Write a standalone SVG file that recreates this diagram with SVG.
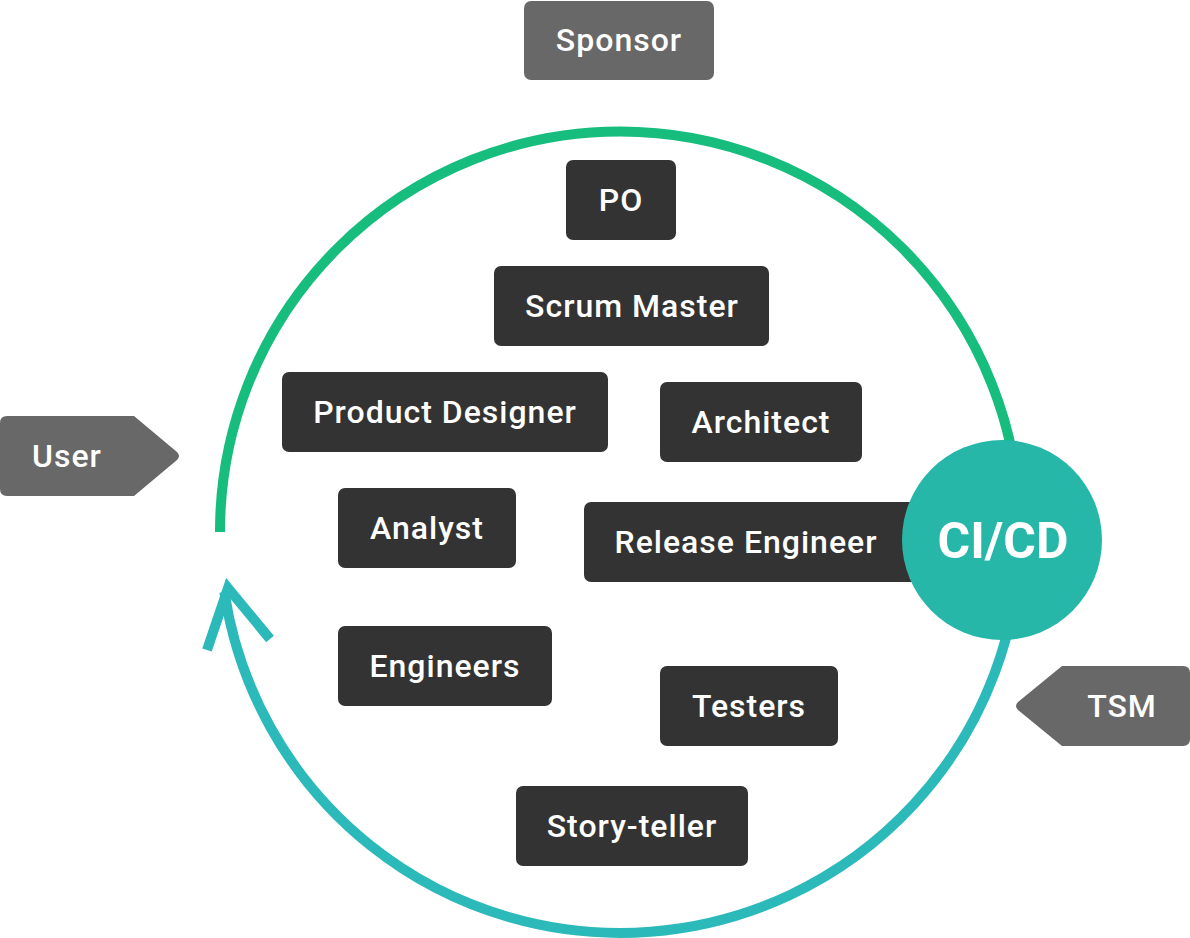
<svg xmlns="http://www.w3.org/2000/svg" width="1190" height="938" viewBox="0 0 1190 938">
<style>
.box{fill:#333333}
.ext{fill:#686868}
.t{font-family:Roboto,"Noto Sans",sans-serif;font-weight:500;font-size:32px;fill:#ffffff;text-anchor:middle;letter-spacing:1px}
.big{font-family:Roboto,"Noto Sans",sans-serif;font-weight:700;font-size:50px;fill:#ffffff;text-anchor:middle}
</style>
<rect width="1190" height="938" fill="#ffffff"/>
<g id="connectors" fill="none" stroke-width="10">
<path d="M220,532 A400,400 0 0 1 1020,531" stroke="#16BD7D"/>
<path d="M1020,531 A400,400 0 0 1 224.4,592" stroke="#2BB9B9"/>
<polyline points="207,650 228,588 270,639" stroke="#2BB9B9" stroke-linejoin="miter" stroke-miterlimit="10"/>
</g>
<g id="sponsor"><rect class="ext" x="524" y="1" width="190" height="79" rx="7"/><text class="t" x="619" y="51">Sponsor</text></g>
<g id="user"><path class="ext" d="M7,416 H134 L177,452 Q181,456 177,460 L134,496 H7 Q0,496 0,489 V423 Q0,416 7,416 Z"/><text class="t" x="67" y="467">User</text></g>
<g id="tsm"><path class="ext" d="M1183,666 H1062 L1018,702 Q1014,706 1018,710 L1062,746 H1183 Q1190,746 1190,739 V673 Q1190,666 1183,666 Z"/><text class="t" x="1122" y="717">TSM</text></g>
<g id="po"><rect class="box" x="566" y="160" width="110" height="80" rx="7"/><text class="t" x="621" y="211">PO</text></g>
<g id="scrum-master"><rect class="box" x="494" y="266" width="275" height="80" rx="7"/><text class="t" x="632" y="317">Scrum Master</text></g>
<g id="product-designer"><rect class="box" x="282" y="372" width="326" height="80" rx="7"/><text class="t" x="445" y="423">Product Designer</text></g>
<g id="architect"><rect class="box" x="660" y="382" width="202" height="80" rx="7"/><text class="t" x="761" y="433">Architect</text></g>
<g id="analyst"><rect class="box" x="338" y="488" width="178" height="80" rx="7"/><text class="t" x="427" y="539">Analyst</text></g>
<g id="release-engineer"><rect class="box" x="584" y="502" width="340" height="80" rx="7"/><text class="t" x="746" y="553">Release Engineer</text></g>
<g id="engineers"><rect class="box" x="338" y="626" width="214" height="80" rx="7"/><text class="t" x="445" y="677">Engineers</text></g>
<g id="testers"><rect class="box" x="660" y="666" width="178" height="80" rx="7"/><text class="t" x="749" y="717">Testers</text></g>
<g id="story-teller"><rect class="box" x="516" y="786" width="232" height="80" rx="7"/><text class="t" x="632" y="837">Story-teller</text></g>
<g id="cicd"><circle cx="1002" cy="540" r="100" fill="#26B7A8"/><text class="big" x="1003" y="558">CI/CD</text></g>
</svg>
